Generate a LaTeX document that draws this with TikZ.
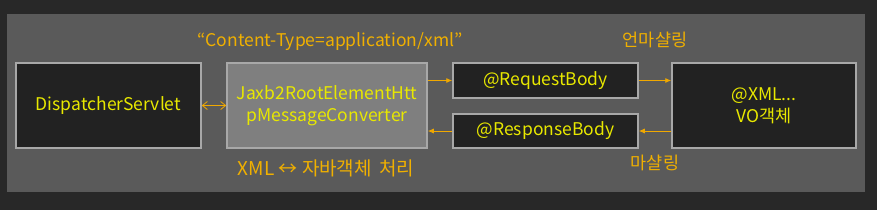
\documentclass[tikz,border=0pt]{standalone}
\usepackage{fontspec}
\setmainfont{Noto Sans CJK KR}
\usetikzlibrary{arrows.meta}
\definecolor{outerbg}{HTML}{282828}
\definecolor{panel}{HTML}{5A5A5A}
\definecolor{darkbox}{HTML}{222222}
\definecolor{graybox}{HTML}{7F7F7F}
\definecolor{boxline}{HTML}{A8A8A8}
\definecolor{boxtext}{HTML}{E8E800}
\definecolor{lbl}{HTML}{F0B000}
\definecolor{arr}{HTML}{F0A800}
\tikzset{
  x=1pt,y=1pt,
  boxnode/.style={draw=boxline, line width=1.5pt, fill=darkbox, text=boxtext, align=center, inner sep=0pt, font=\fontsize{17.5}{22}\selectfont},
  lbltext/.style={text=lbl, font=\fontsize{17.5}{22}\selectfont, inner sep=0pt},
  conn/.style={draw=arr, line width=0.9pt, -{Latex[length=6pt,width=5pt]}},
}
\begin{document}
\begin{tikzpicture}
\fill[outerbg] (0,0) rectangle (877,210);
\useasboundingbox (0,0) rectangle (877,210);
\fill[panel] (7,18) rectangle (865,196);
\node[boxnode, minimum width=185, minimum height=85] (ds) at (108.5,104.5) {DispatcherServlet};
\node[boxnode, fill=graybox, minimum width=200, minimum height=85] (jx) at (327,104.5) {Jaxb2RootElementHtt\\pMessageConverter};
\node[boxnode, minimum width=185, minimum height=35] (rq) at (545.5,129.5) {@RequestBody};
\node[boxnode, minimum width=185, minimum height=34] (rs) at (545.5,79) {@ResponseBody};
\node[boxnode, minimum width=184, minimum height=85] (vo) at (764,104.5) {@XML...\\VO객체};
\node[lbltext] (ct) at (330,168) {“Content-Type=application/xml”};
\node[lbltext] (um) at (655,170) {언마샬링};
\node[lbltext] (ms) at (655,47) {마샬링};
\node[lbltext, font=\fontsize{19}{22}\selectfont] (xj) at (326,42) {XML ↔ 자바객체\hspace{3pt} 처리};
\draw[draw=arr, line width=0.8pt, {Straight Barb[length=5pt,width=8pt]}-{Straight Barb[length=5pt,width=8pt]}] (ds.east) -- (jx.east -| jx.west);
\draw[conn] (jx.east |- rq.west) -- (rq.west);
\draw[conn] (rq.east) -- (vo.west |- rq.east);
\draw[conn] (vo.west |- rs.east) -- (rs.east);
\draw[conn] (rs.west) -- (jx.east |- rs.west);
\end{tikzpicture}
\end{document}
